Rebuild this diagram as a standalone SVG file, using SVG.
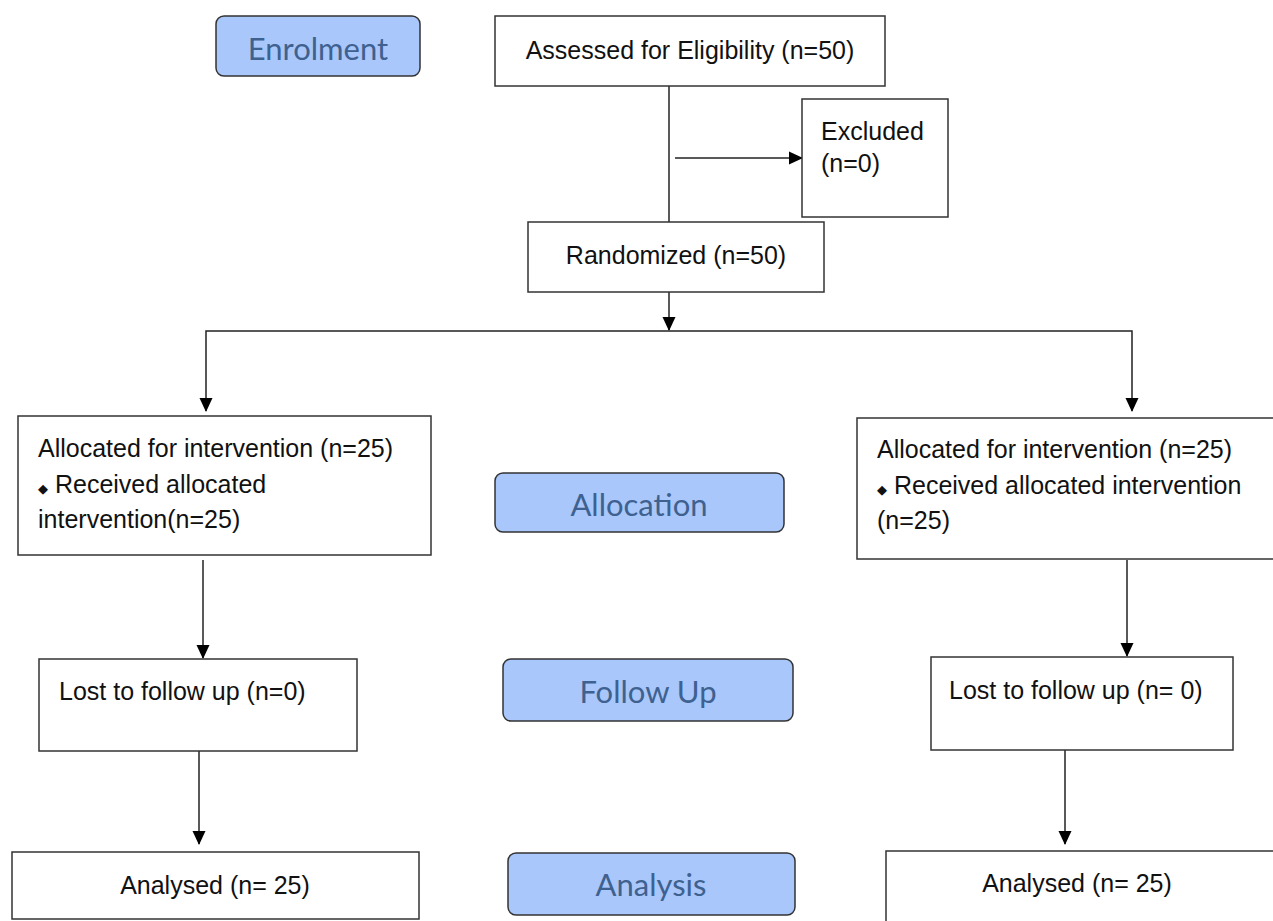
<svg xmlns="http://www.w3.org/2000/svg" width="1273" height="921" viewBox="0 0 1273 921">
<style>
.box{fill:#fff;stroke:#333;stroke-width:1.5}
.stage{fill:#a9c7fb;stroke:#333;stroke-width:1.5}
.t{font-family:"Liberation Sans",Arial,sans-serif;font-size:25px;fill:#111}
.s{font-family:Lato,"Open Sans",sans-serif;font-size:31px;fill:#3e618f;text-anchor:middle}
.c{fill:none;stroke:#222;stroke-width:1.5}
</style>
<defs>
<marker id="ah" markerWidth="14" markerHeight="14" refX="13" refY="7" orient="auto" markerUnits="userSpaceOnUse" viewBox="0 0 14 14">
<path d="M0,0.5 L14,7 L0,13.5 z" fill="#000"/>
</marker>
</defs>
<rect width="1273" height="921" fill="#fff"/>
<g id="connectors">
<line class="c" x1="669" y1="86" x2="669" y2="222"/>
<line class="c" x1="675" y1="158" x2="802" y2="158" marker-end="url(#ah)"/>
<line class="c" x1="669" y1="292" x2="669" y2="330" marker-end="url(#ah)"/>
<polyline class="c" points="206,405 206,331 1132,331 1132,405"/>
<line class="c" x1="206" y1="398" x2="206" y2="411" marker-end="url(#ah)"/>
<line class="c" x1="1132" y1="398" x2="1132" y2="411" marker-end="url(#ah)"/>
<line class="c" x1="203" y1="560" x2="203" y2="658" marker-end="url(#ah)"/>
<line class="c" x1="1127" y1="560" x2="1127" y2="656" marker-end="url(#ah)"/>
<line class="c" x1="199" y1="751" x2="199" y2="844" marker-end="url(#ah)"/>
<line class="c" x1="1065" y1="750" x2="1065" y2="844" marker-end="url(#ah)"/>
</g>
<g id="enrolment"><rect class="stage" x="216" y="16" width="204" height="60" rx="8"/><text class="s" x="318" y="60">Enrolment</text></g>
<g id="assessed"><rect class="box" x="495" y="16" width="390" height="70"/><text class="t" x="690" y="59" text-anchor="middle">Assessed for Eligibility (n=50)</text></g>
<g id="excluded"><rect class="box" x="802" y="99" width="146" height="118"/><text class="t" x="821" y="140">Excluded</text><text class="t" x="821" y="172">(n=0)</text></g>
<g id="randomized"><rect class="box" x="528" y="222" width="296" height="70"/><text class="t" x="676" y="264" text-anchor="middle">Randomized (n=50)</text></g>
<g id="alloc-left"><rect class="box" x="18" y="416" width="413" height="139"/>
<text class="t" x="38" y="457">Allocated for intervention (n=25)</text>
<text class="t" x="38" y="493"><tspan font-size="13">◆</tspan> Received allocated</text>
<text class="t" x="38" y="528">intervention(n=25)</text></g>
<g id="allocation"><rect class="stage" x="495" y="473" width="289" height="59" rx="8"/><text class="s" x="639" y="516">Allocation</text></g>
<g id="alloc-right"><rect class="box" x="857" y="418" width="420" height="141"/>
<text class="t" x="877" y="458">Allocated for intervention (n=25)</text>
<text class="t" x="877" y="494"><tspan font-size="13">◆</tspan> Received allocated intervention</text>
<text class="t" x="877" y="529">(n=25)</text></g>
<g id="lost-left"><rect class="box" x="39" y="659" width="318" height="92"/><text class="t" x="59" y="700">Lost to follow up (n=0)</text></g>
<g id="followup"><rect class="stage" x="503" y="659" width="290" height="62" rx="8"/><text class="s" x="648" y="703">Follow Up</text></g>
<g id="lost-right"><rect class="box" x="931" y="657" width="302" height="93"/><text class="t" x="949" y="699">Lost to follow up (n= 0)</text></g>
<g id="analysed-left"><rect class="box" x="12" y="852" width="407" height="67"/><text class="t" x="215" y="894" text-anchor="middle">Analysed (n= 25)</text></g>
<g id="analysis"><rect class="stage" x="508" y="853" width="287" height="62" rx="8"/><text class="s" x="651" y="896">Analysis</text></g>
<g id="analysed-right"><rect class="box" x="886" y="851" width="392" height="75"/><text class="t" x="1077" y="892" text-anchor="middle">Analysed (n= 25)</text></g>
</svg>
